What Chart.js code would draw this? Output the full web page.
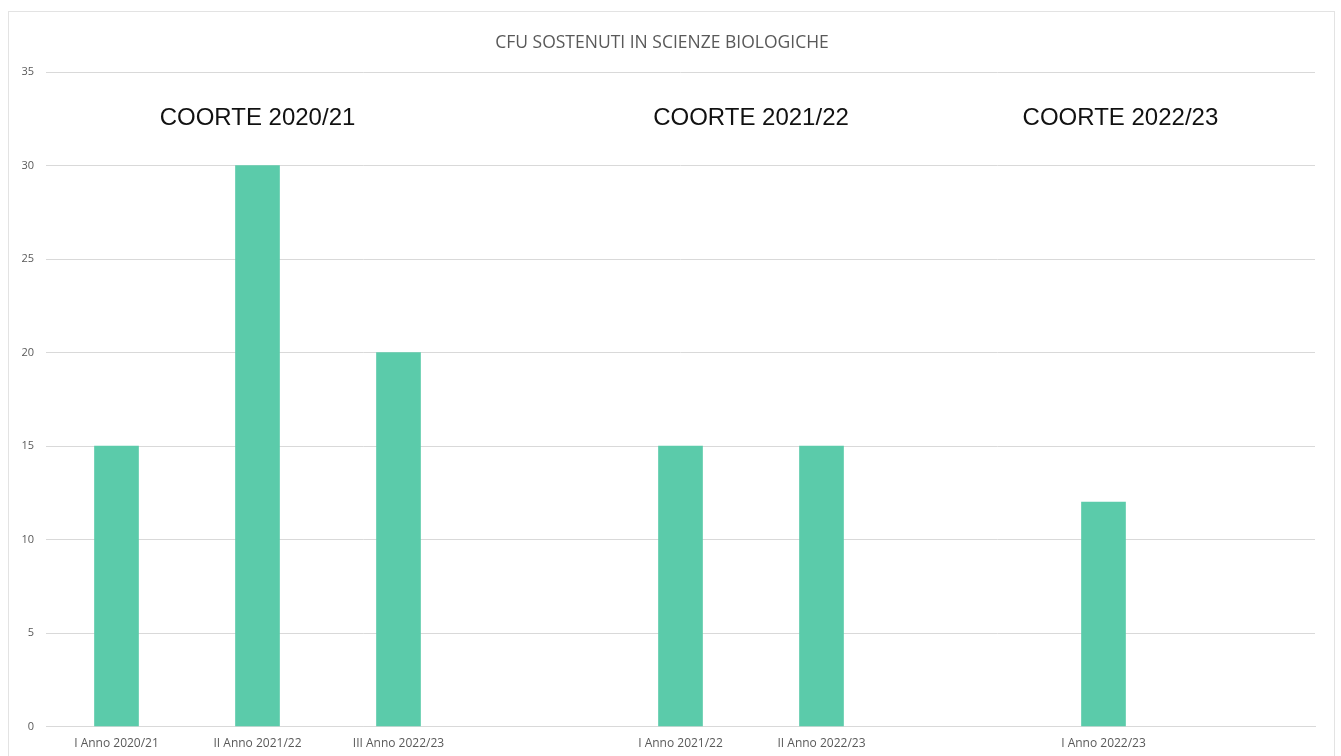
<!DOCTYPE html>
<html lang="it">
<head>
  <meta charset="UTF-8">
  <title>CFU sostenuti in Scienze Biologiche</title>
  <script src="https://cdn.jsdelivr.net/npm/chart.js"></script>
  <style>
    html, body {
      margin: 0;
      padding: 0;
      background: #fff;
      overflow: hidden;
    }
    #box {
      position: absolute;
      left: 8px;
      top: 11px;
      width: 1325px;
      height: 770px;
      border: 1px solid #e3e3e3;
    }
    canvas {
      display: block;
    }
  </style>
</head>
<body>
  <div id="box">
    <canvas id="cfuChart" width="1325" height="755" style="width: 1325px; height: 755px;"></canvas>
  </div>

  <script>
    // categories (empty slots are the gaps between the cohorts)
    const years = ['I Anno 2020/21', 'II Anno 2021/22', 'III Anno 2022/23', '',
                   'I Anno 2021/22', 'II Anno 2022/23', '',
                   'I Anno 2022/23', ''];
    const cfu = [15, 30, 20, null, 15, 15, null, 12, null];
    const yTicks = [0, 5, 10, 15, 20, 25, 30, 35];

    const cohorts = ['COORTE 2020/21', 'COORTE 2021/22', 'COORTE 2022/23'];

    // writes the cohort names above each group of bars
    const cohortLabels = {
      id: 'cohortLabels',
      afterDraw(chart, args, opts) {
        const ctx = chart.ctx;
        const x = chart.scales.x;
        const y = chart.scales.y;
        ctx.save();
        ctx.font = '24px "Liberation Sans", Arial, sans-serif';
        ctx.fillStyle = '#111';
        ctx.textAlign = 'center';
        ctx.textBaseline = 'middle';
        opts.anchors.forEach((a, i) => {
          ctx.fillText(cohorts[i], x.getPixelForValue(a), y.getPixelForValue(opts.level));
        });
        ctx.restore();
      }
    };

    const ctx = document.getElementById('cfuChart').getContext('2d');
    new Chart(ctx, {
      type: 'bar',
      data: {
        labels: years,
        datasets: [{
          label: 'CFU',
          data: cfu,
          backgroundColor: '#5bcbaa',
          barThickness: 44
        }]
      },
      options: {
        responsive: false,
        animation: false,
        layout: {
          padding: { left: 0, right: 19, top: 0, bottom: 6 }
        },
        plugins: {
          legend: { display: false },
          tooltip: { enabled: false },
          title: {
            display: true,
            text: 'CFU SOSTENUTI IN SCIENZE BIOLOGICHE',
            color: '#595959',
            font: { family: '"Open Sans", sans-serif', size: 17.5, weight: 'normal' },
            padding: { top: 21, bottom: 18 }
          },
          cohortLabels: {
            anchors: [1, 4.5, 7.12],
            level: 32.5
          }
        },
        scales: {
          x: {
            grid: { display: false, drawTicks: false },
            border: { display: true, color: '#d9d9d9' },
            ticks: {
              color: '#595959',
              padding: 10,
              autoSkip: false,
              maxRotation: 0,
              font: { family: '"Open Sans", sans-serif', size: 12 }
            }
          },
          y: {
            min: 0,
            max: 35,
            afterBuildTicks(scale) {
              scale.ticks = yTicks.map(v => ({ value: v }));
            },
            afterFit(scale) {
              scale.width = 37;
            },
            grid: { color: '#d9d9d9', drawTicks: false },
            border: { display: false },
            ticks: {
              color: '#595959',
              padding: 12,
              font: { family: '"Open Sans", sans-serif', size: 11 }
            }
          }
        }
      },
      plugins: [cohortLabels]
    });
  </script>
</body>
</html>
